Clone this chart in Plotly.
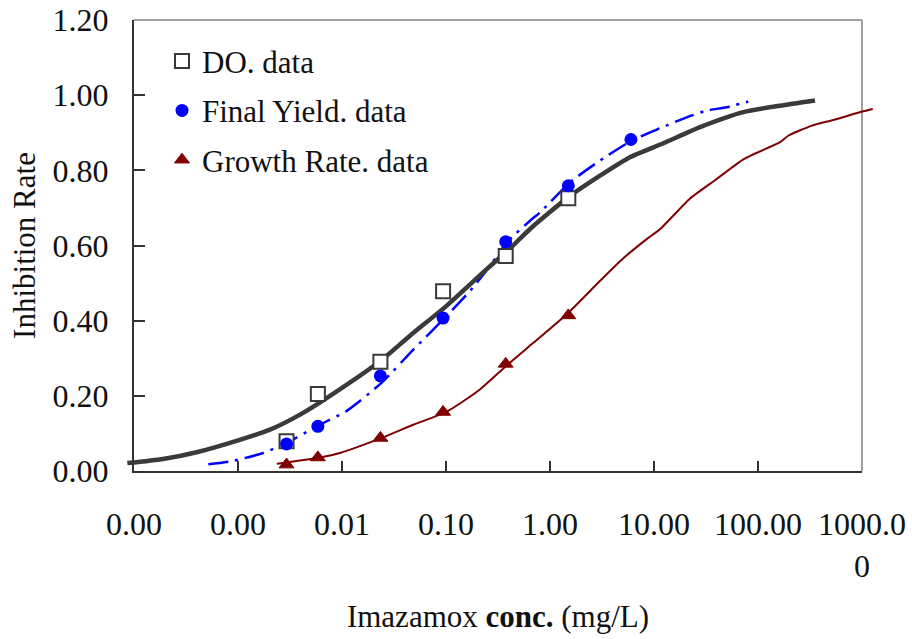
import plotly.graph_objects as go

# ---- measured concentrations (mg/L) ----
conc = [0.00293, 0.00586, 0.0234, 0.09375, 0.375, 1.5, 6.0]

# ---- observed inhibition rates ----
do_rate = [0.079, 0.205, 0.291, 0.478, 0.572, 0.726]
fy_rate = [0.072, 0.119, 0.253, 0.407, 0.610, 0.759, 0.882]
gr_rate = [0.017, 0.036, 0.088, 0.157, 0.285, 0.414]

# ---- fitted dose-response curves ----
do_fit_x = [8.63e-5, 1.9e-4, 4.0e-4, 1.04e-3, 2.03e-3, 3.95e-3, 7.67e-3, 0.0232,
            0.0451, 0.1016, 0.246, 0.412, 0.643, 1.556, 3.03, 5.87, 12.3, 27.7,
            72.3, 163, 353]
do_fit_y = [0.021, 0.032, 0.050, 0.083, 0.110, 0.150, 0.200, 0.292,
            0.360, 0.440, 0.537, 0.592, 0.644, 0.732, 0.786, 0.835, 0.872, 0.915,
            0.955, 0.972, 0.986]

fy_fit_x = [5.18e-4, 9.0e-4, 1.74e-3, 2.96e-3, 5.71e-3, 0.0111, 0.0241, 0.0485,
            0.0977, 0.170, 0.265, 0.384, 0.643, 0.802, 1.556, 3.03, 6.11, 11.4,
            20.6, 32.1, 50.0, 80.7]
fy_fit_y = [0.018, 0.027, 0.048, 0.075, 0.119, 0.160, 0.235, 0.323,
            0.408, 0.479, 0.546, 0.608, 0.666, 0.688, 0.768, 0.826, 0.879, 0.912,
            0.941, 0.959, 0.968, 0.983]

gr_fit_x = [2.36e-3, 6.14e-3, 9.57e-3, 0.0241, 0.0485, 0.1016, 0.212, 0.384,
            0.692, 1.449, 3.03, 5.07, 8.51, 11.4, 22.0, 40.1, 73.0, 163, 195,
            330, 530, 1030, 1268]
gr_fit_y = [0.019, 0.036, 0.048, 0.088, 0.123, 0.158, 0.217, 0.281,
            0.341, 0.417, 0.506, 0.566, 0.617, 0.643, 0.724, 0.777, 0.830, 0.875, 0.892,
            0.919, 0.934, 0.957, 0.963]

# ---- axis ticks ----
x_tickvals = [0.0001, 0.001, 0.01, 0.1, 1, 10, 100, 1000]
x_ticktext = ["0.00", "0.00", "0.01", "0.10", "1.00", "10.00", "100.00", "1000.0<br>0"]
y_tickvals = [0, 0.2, 0.4, 0.6, 0.8, 1.0, 1.2]

FONT = "Liberation Serif"
TXT = "#111111"
DARK = "#333333"
BLUE = "#0000ff"
RED = "#800000"

# geometry: frame spans pixels 134..862 of a 760 px wide plot region starting at 120
L_MARGIN, R_MARGIN = 120, 32
W = 912
span = W - L_MARGIN - R_MARGIN
d0 = (134 - L_MARGIN) / span
d1 = (862 - L_MARGIN) / span
per_px = 7.0 / (862 - 134)
wide_range = [-4 - (134 - L_MARGIN) * per_px, 3 + (W - R_MARGIN - 862) * per_px]

fig = go.Figure()

# fitted curves (on the wider, hidden x axis so they may run past the frame)
fig.add_trace(go.Scatter(x=gr_fit_x, y=gr_fit_y, mode="lines", xaxis="x", yaxis="y",
                         line=dict(color=RED, width=2, shape="spline", smoothing=0.6),
                         showlegend=False, hoverinfo="skip"))
fig.add_trace(go.Scatter(x=fy_fit_x, y=fy_fit_y, mode="lines", xaxis="x", yaxis="y",
                         line=dict(color=BLUE, width=2.5, dash="20px,7px,3px,7px",
                                   shape="spline", smoothing=0.6),
                         showlegend=False, hoverinfo="skip"))
fig.add_trace(go.Scatter(x=do_fit_x, y=do_fit_y, mode="lines", xaxis="x", yaxis="y",
                         line=dict(color="#3a3a3a", width=4.5, shape="spline", smoothing=0.6),
                         showlegend=False, hoverinfo="skip"))

# observed data
fig.add_trace(go.Scatter(x=conc[:6], y=do_rate, mode="markers", name="DO. data",
                         xaxis="x2", yaxis="y", legendgroup="a",
                         marker=dict(symbol="square", size=14, color="white",
                                     line=dict(color="#3a3a3a", width=2))))
fig.add_trace(go.Scatter(x=conc, y=fy_rate, mode="markers", name="Final Yield. data",
                         xaxis="x2", yaxis="y", legendgroup="b",
                         marker=dict(symbol="circle", size=13, color=BLUE,
                                     line=dict(width=0))))
fig.add_trace(go.Scatter(x=conc[:6], y=gr_rate, mode="markers", name="Growth Rate. data",
                         xaxis="x2", yaxis="y", legendgroup="c",
                         marker=dict(symbol="triangle-up", size=13, color=RED,
                                     line=dict(color=RED, width=1))))

fig.update_layout(
    width=W, height=639,
    margin=dict(l=L_MARGIN, r=R_MARGIN, t=20, b=168, autoexpand=False),
    paper_bgcolor="white", plot_bgcolor="rgba(0,0,0,0)",
    font=dict(family=FONT, size=31, color=TXT),
    xaxis=dict(type="log", range=wide_range, domain=[0, 1], anchor="y",
               visible=False, showgrid=False, zeroline=False, automargin=False),
    xaxis2=dict(type="log", range=[-4, 3], domain=[d0, d1], anchor="y",
                tickmode="array", tickvals=x_tickvals, ticktext=x_ticktext,
                ticks="inside", ticklen=10, tickwidth=1.5, tickcolor=DARK,
                showline=True, linecolor=DARK, linewidth=2, automargin=False,
                showgrid=False, zeroline=False, ticklabelstandoff=24,
                tickfont=dict(family=FONT, size=32, color=TXT),
                title=dict(text="Imazamox <b>conc.</b> (mg/L)", standoff=22,
                           font=dict(family=FONT, size=31, color=TXT))),
    yaxis=dict(range=[0, 1.2], domain=[0, 1], anchor="x2",
               tickmode="array", tickvals=y_tickvals, tickformat=".2f",
               ticks="inside", ticklen=11, tickwidth=1.5, tickcolor=DARK,
               showline=True, linecolor=DARK, linewidth=2, automargin=False,
               showgrid=False, zeroline=False, ticklabelstandoff=17,
               tickfont=dict(family=FONT, size=32, color=TXT),
               title=dict(text="Inhibition Rate", standoff=8,
                          font=dict(family=FONT, size=31, color=TXT))),
    legend=dict(x=(162 - L_MARGIN) / span, y=0.968, xanchor="left", yanchor="top",
                bgcolor="rgba(0,0,0,0)", tracegroupgap=6,
                font=dict(family=FONT, size=31, color=TXT)),
    shapes=[
        dict(type="line", xref="paper", yref="paper", x0=d0, x1=d1, y0=1, y1=1,
             line=dict(color="#a0a0a0", width=2), layer="below"),
        dict(type="line", xref="paper", yref="paper", x0=d1, x1=d1, y0=0, y1=1,
             line=dict(color="#a0a0a0", width=2), layer="below"),
    ],
)

fig.write_html("out.html")
